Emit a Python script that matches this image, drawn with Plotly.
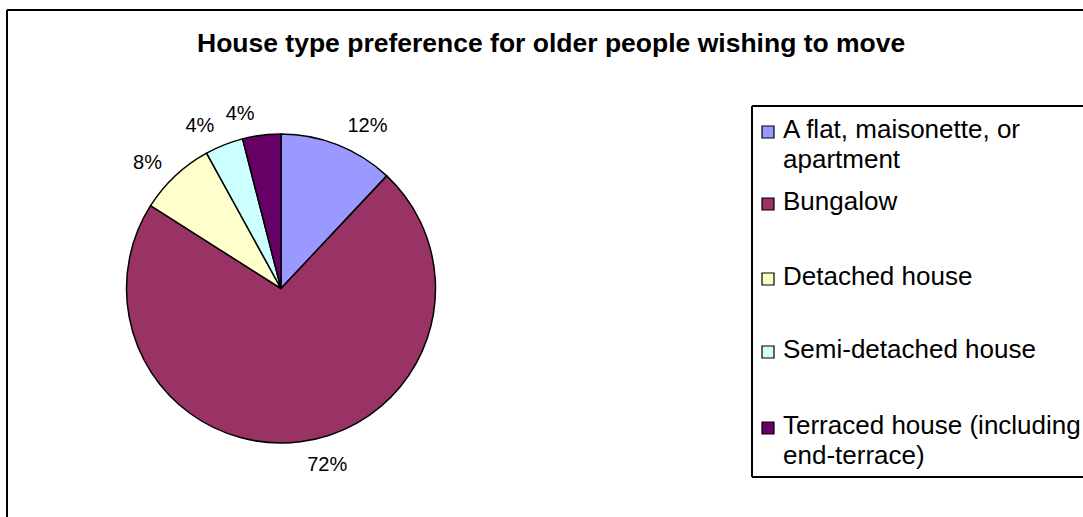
import plotly.graph_objects as go

W, H = 1083, 517

categories = ["A flat, maisonette, or apartment", "Bungalow", "Detached house",
              "Semi-detached house", "Terraced house (including end-terrace)"]
legend_lines = [["A flat, maisonette, or", "apartment"], ["Bungalow"], ["Detached house"],
                ["Semi-detached house"], ["Terraced house (including", "end-terrace)"]]
counts = [3, 18, 2, 1, 1]
colors = ["#9999FF", "#993366", "#FFFFCC", "#CCFFFF", "#660066"]
title = "House type preference for older people wishing to move"

FONT = "Arial, Liberation Sans, sans-serif"
PCT = "%{percent:.0%}"


def px(x):
    return x / W


def py(y):
    return 1 - y / H


# pie centre and radius in pixels
cx, cy, r = 281, 288.5, 154.5
r_lab = r + 11  # labels sit a little further out than plotly puts them

fig = go.Figure()
fig.add_trace(go.Pie(
    labels=categories,
    values=counts,
    marker=dict(colors=colors, line=dict(color="black", width=1.5)),
    sort=False,
    direction="clockwise",
    rotation=0,
    textinfo="none",
    showlegend=False,
    hoverinfo="label+value+percent",
    domain=dict(x=[px(cx - r), px(cx + r)], y=[py(cy + r), py(cy - r)]),
))

# invisible copies, only used to place the percentage labels; the two small
# neighbouring slices are labelled from separate traces so plotly does not
# push one of them aside and add a leader line
label_sets = [
    [PCT, PCT, PCT, "", PCT],
    ["", "", "", PCT, ""],
]
for tmpl in label_sets:
    fig.add_trace(go.Pie(
        labels=categories,
        values=counts,
        marker=dict(colors=["rgba(0,0,0,0)"] * len(counts),
                    line=dict(color="rgba(0,0,0,0)", width=0)),
        sort=False,
        direction="clockwise",
        rotation=0,
        texttemplate=tmpl,
        textposition="outside",
        textfont=dict(family=FONT, size=20, color="black"),
        showlegend=False,
        hoverinfo="skip",
        domain=dict(x=[px(cx - r_lab), px(cx + r_lab)], y=[py(cy + r_lab), py(cy - r_lab)]),
    ))

line_style = dict(color="black", width=2)
shapes = [
    # chart area border (right and bottom run off the picture)
    dict(type="line", xref="paper", yref="paper", x0=px(7), x1=px(1083), y0=py(10), y1=py(10), line=line_style),
    dict(type="line", xref="paper", yref="paper", x0=px(7), x1=px(7), y0=py(10), y1=py(517), line=line_style),
    # legend box
    dict(type="line", xref="paper", yref="paper", x0=px(752), x1=px(1083), y0=py(106), y1=py(106), line=line_style),
    dict(type="line", xref="paper", yref="paper", x0=px(752), x1=px(752), y0=py(106), y1=py(477), line=line_style),
    dict(type="line", xref="paper", yref="paper", x0=px(752), x1=px(1083), y0=py(477), y1=py(477), line=line_style),
]
annotations = [
    dict(text="<b>%s</b>" % title, x=px(551), y=py(43), xref="paper", yref="paper",
         showarrow=False, xanchor="center", yanchor="middle",
         font=dict(family=FONT, size=26.5, color="black")),
]

item_base = [138, 210, 285, 358, 434]
line_gap = 30
for lines, col, yb in zip(legend_lines, colors, item_base):
    shapes.append(dict(type="rect", xref="paper", yref="paper",
                       x0=px(762), x1=px(774), y0=py(yb), y1=py(yb - 12),
                       fillcolor=col, line=dict(color="black", width=1.2)))
    for i, ln in enumerate(lines):
        annotations.append(dict(text=ln, x=px(781), y=py(yb - 9 + i * line_gap),
                                xref="paper", yref="paper", showarrow=False,
                                xanchor="left", yanchor="middle",
                                font=dict(family=FONT, size=26, color="black")))

fig.update_layout(
    width=W, height=H,
    margin=dict(l=0, r=0, t=0, b=0),
    paper_bgcolor="white",
    plot_bgcolor="white",
    shapes=shapes,
    annotations=annotations,
)

fig.write_html("out.html", config={"displayModeBar": False},
               post_script="document.body.style.margin='0';document.body.style.overflow='hidden';")
